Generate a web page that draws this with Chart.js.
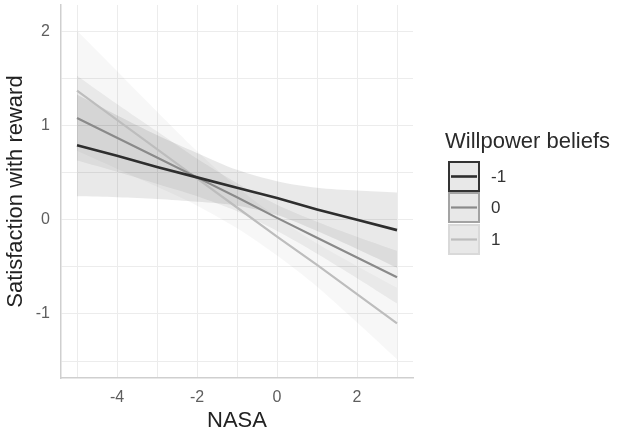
<!DOCTYPE html>
<html>
<head>
<meta charset="utf-8">
<script src="https://cdn.jsdelivr.net/npm/chart.js@4.4.1/dist/chart.umd.min.js"></script>
<style>
  html, body { margin: 0; padding: 0; background: #fff; }
  #wrap { width: 625px; height: 434px; }
</style>
</head>
<body>
<div id="wrap"><canvas id="myChart" width="625" height="434"></canvas></div>
<script>
// values
const nasa = [-5, -4, -3, -2, -1, 0, 1, 2, 3];
const groups = ['-1', '0', '1'];

const fitM1 = [0.79, 0.68, 0.56, 0.45, 0.34, 0.23, 0.11, 0.00, -0.11];
const fit0  = [1.08, 0.87, 0.66, 0.45, 0.24, 0.02, -0.19, -0.40, -0.61];
const fit1  = [1.37, 1.06, 0.75, 0.44, 0.13, -0.18, -0.48, -0.79, -1.10];

const upM1 = [1.33, 1.11, 0.90, 0.71, 0.53, 0.41, 0.34, 0.31, 0.29];
const loM1 = [0.25, 0.24, 0.22, 0.19, 0.15, 0.05, -0.12, -0.31, -0.51];
const up0  = [1.53, 1.23, 0.94, 0.65, 0.39, 0.16, -0.02, -0.18, -0.33];
const lo0  = [0.63, 0.51, 0.38, 0.25, 0.09, -0.12, -0.36, -0.62, -0.89];
const up1  = [2.01, 1.58, 1.15, 0.73, 0.35, 0.03, -0.25, -0.49, -0.72];
const lo1  = [0.73, 0.54, 0.35, 0.15, -0.09, -0.38, -0.71, -1.09, -1.48];

const xTicks = [-5, -4, -3, -2, -1, 0, 1, 2, 3];
const yTicks = [-1.5, -1, -0.5, 0, 0.5, 1, 1.5, 2];

const lineColors = ['#2e2e2e', '#8a8a8a', '#bdbdbd'];
const boxBorders = ['#333333', '#a3a3a3', '#d9d9d9'];
const ribbonFills = ['rgba(0,0,0,0.085)', 'rgba(0,0,0,0.06)', 'rgba(0,0,0,0.03)'];

const pts = arr => nasa.map((x, i) => ({ x: x, y: arr[i] }));

function lineSet(arr, i) {
  return {
    label: groups[i],
    data: pts(arr),
    borderColor: lineColors[i],
    borderWidth: i === 0 ? 2.6 : 2.2,
    pointRadius: 0,
    fill: false,
    tension: 0
  };
}
function ribbon(up, lo, i) {
  return [
    { label: 'up' + i, data: pts(up), borderWidth: 0, borderColor: 'rgba(0,0,0,0)', pointRadius: 0, fill: '+1', backgroundColor: ribbonFills[i], tension: 0.3 },
    { label: 'lo' + i, data: pts(lo), borderWidth: 0, borderColor: 'rgba(0,0,0,0)', pointRadius: 0, fill: false, tension: 0.3 }
  ];
}

const data = {
  datasets: [
    lineSet(fitM1, 0),
    lineSet(fit0, 1),
    lineSet(fit1, 2),
    ...ribbon(upM1, loM1, 0),
    ...ribbon(up0, lo0, 1),
    ...ribbon(up1, lo1, 2)
  ]
};

const legendBox = {
  id: 'legendBox',
  afterDraw(chart) {
    const c = chart.ctx;
    c.save();
    c.fillStyle = '#2a2a2a';
    c.font = '22px "Liberation Sans", Arial, sans-serif';
    c.textBaseline = 'alphabetic';
    c.textAlign = 'left';
    c.fillText('Willpower beliefs', 445, 148);
    const tops = [161, 192, 224];
    groups.forEach((g, i) => {
      const y = tops[i];
      c.fillStyle = '#e8e8e8';
      c.fillRect(448, y, 32, 31);
      c.strokeStyle = boxBorders[i];
      c.lineWidth = 2;
      c.strokeRect(449, y + 1, 30, 29);
      c.strokeStyle = lineColors[i];
      c.lineWidth = i === 0 ? 2.6 : 2.2;
      c.beginPath();
      c.moveTo(451, y + 15.5);
      c.lineTo(477, y + 15.5);
      c.stroke();
      c.fillStyle = '#333';
      c.font = '17px "Liberation Sans", Arial, sans-serif';
      c.textBaseline = 'middle';
      c.fillText(g, 491, y + 16);
    });
    c.restore();
  }
};

const config = {
  type: 'line',
  data,
  options: {
    responsive: false,
    animation: false,
    layout: { padding: { left: 0, right: 212, top: 5, bottom: 0 } },
    plugins: { legend: { display: false }, tooltip: { enabled: false } },
    scales: {
      x: {
        type: 'linear',
        min: -5.4,
        max: 3.4,
        afterBuildTicks: s => { s.ticks = xTicks.map(v => ({ value: v })); },
        afterFit: s => { s.height = 56; s.paddingLeft = 0; s.paddingRight = 0; },
        ticks: {
          padding: 10,
          color: '#5e5e5e',
          font: { size: 16, family: '"Liberation Sans", Arial, sans-serif' },
          callback: v => (v % 2 === 0 ? String(v) : '')
        },
        grid: { color: '#ececec', lineWidth: 1, drawTicks: false },
        border: { display: true, color: '#cfcfcf', width: 1.5 },
        title: {
          display: true,
          text: 'NASA',
          color: '#222',
          padding: { top: 0, bottom: 0 },
          font: { size: 22, family: '"Liberation Sans", Arial, sans-serif' }
        }
      },
      y: {
        type: 'linear',
        min: -1.68,
        max: 2.28,
        afterBuildTicks: s => { s.ticks = yTicks.map(v => ({ value: v })); },
        afterFit: s => { s.width = 61; s.paddingTop = 0; s.paddingBottom = 0; },
        ticks: {
          padding: 11,
          color: '#5e5e5e',
          font: { size: 16, family: '"Liberation Sans", Arial, sans-serif' },
          callback: v => (Number.isInteger(v) ? String(v) : '')
        },
        grid: { color: '#ececec', lineWidth: 1, drawTicks: false },
        border: { display: true, color: '#cfcfcf', width: 1.5 },
        title: {
          display: true,
          text: 'Satisfaction with reward',
          color: '#222',
          padding: { top: 3, bottom: 0 },
          font: { size: 22, family: '"Liberation Sans", Arial, sans-serif' }
        }
      }
    }
  },
  plugins: [legendBox]
};

const myChart = new Chart(document.getElementById('myChart'), config);
</script>
</body>
</html>
